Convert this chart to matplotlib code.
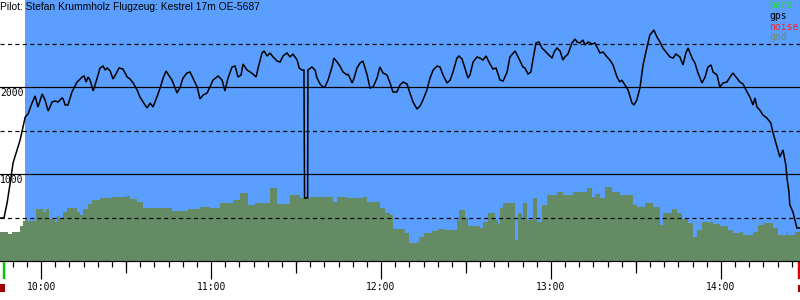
import matplotlib
matplotlib.use("Agg")
import matplotlib.pyplot as plt
from matplotlib.ticker import FixedLocator, MultipleLocator
from matplotlib.patches import Rectangle
import matplotlib.transforms as mtransforms

# ---------------- data ----------------
pilot_text = "Pilot: Stefan Krummholz Flugzeug: Kestrel 17m OE-5687"
legend_labels = ["baro", "gps", "noise", "gnd"]
legend_colors = ["#22dd22", "#000000", "#ff2020", "#6f8a6f"]

view_start_min = 585.5      # minutes after midnight (09:45.5)
view_end_min = 867.9        # 14:27.9
blue_start_min = 594.4      # start of flight window
start_marker_min = 587.0
end_marker_min = 867.6

hour_ticks_min = [600, 660, 720, 780, 840]
hour_labels = ["10:00", "11:00", "12:00", "13:00", "14:00"]
half_hour_ticks_min = [630, 690, 750, 810]
alt_label_levels = [1000, 2000]
solid_levels = [1000, 2000]
dashed_levels = [500, 1500, 2500]

# flight altitude (m) vs time (minutes after midnight)
flight_min = [585.5, 586.9, 588.0, 589.1, 590.1, 591.5, 592.6, 593.6, 594.4, 595.4,
              596.8, 597.9, 598.9, 600.4, 601.4, 602.5, 603.9, 604.9, 606.0, 607.4,
              607.8, 608.5, 609.5, 610.9, 612.7, 614.5, 615.2, 615.9, 616.6, 617.3,
              618.4, 619.8, 620.8, 621.9, 622.6, 623.3, 624.4, 625.4, 626.8, 627.5,
              628.9, 630.4, 631.4, 632.5, 633.9, 634.9, 636.0, 637.4, 638.5, 639.5,
              640.9, 642.0, 643.1, 644.1, 644.8, 646.2, 647.3, 648.0, 649.1, 650.1,
              651.5, 652.6, 653.6, 655.1, 656.1, 657.2, 658.6, 659.6, 660.7, 662.5,
              663.9, 664.9, 666.0, 667.4, 668.5, 669.5, 670.6, 671.3, 672.7, 673.8,
              674.8, 675.9, 676.6, 678.0, 678.7, 679.8, 680.8, 681.9, 683.3, 684.4,
              685.4, 686.8, 687.9, 688.9, 690.4, 691.1, 692.1, 692.8, 693.0, 694.1,
              694.2, 695.6, 696.7, 697.4, 698.5, 699.5, 700.2, 701.3, 702.7, 703.4,
              704.5, 705.5, 706.6, 708.0, 708.4, 709.8, 710.5, 711.5, 712.6, 713.6,
              715.1, 716.1, 717.2, 718.6, 719.6, 720.7, 722.1, 723.2, 724.2, 725.6,
              726.7, 727.8, 729.2, 730.2, 731.3, 732.7, 733.8, 734.8, 736.2, 737.3,
              738.4, 739.8, 740.8, 741.9, 743.3, 744.4, 745.4, 746.8, 747.5, 748.6,
              749.6, 750.7, 751.4, 752.5, 753.9, 754.9, 756.0, 757.1, 758.1, 759.5,
              760.6, 762.0, 763.1, 764.5, 765.5, 767.3, 768.4, 770.1, 770.8, 771.9,
              772.9, 773.6, 774.7, 775.8, 776.8, 777.9, 778.9, 780.4, 781.1, 782.1,
              783.2, 784.2, 784.9, 786.0, 787.4, 788.5, 789.2, 790.2, 791.3, 792.0,
              793.1, 794.5, 795.5, 797.3, 798.4, 799.8, 800.8, 801.9, 803.3, 804.3,
              805.0, 806.1, 807.2, 808.6, 809.3, 810.3, 811.4, 812.5, 813.9, 814.9,
              816.3, 817.4, 818.5, 819.5, 820.9, 822.0, 823.1, 824.1, 825.5, 826.6,
              827.6, 828.4, 829.8, 830.8, 831.9, 833.3, 834.4, 835.4, 836.5, 837.2,
              838.6, 839.6, 840.7, 842.1, 843.2, 844.2, 845.6, 846.7, 847.8, 849.2,
              850.2, 851.3, 852.0, 852.7, 853.7, 854.8, 856.2, 857.6, 858.3, 859.8,
              860.8, 861.9, 862.9, 863.3, 864.0, 864.3, 865.4, 866.1, 866.8, 867.9]
flight_alt = [494, 494, 667, 897, 1126, 1276, 1391, 1540, 1655, 1690,
              1816, 1897, 1770, 1920, 1851, 1724, 1828, 1839, 1828, 1874,
              1862, 1793, 1793, 1943, 2057, 2115, 2126, 2057, 2115, 2080,
              1954, 2103, 2218, 2241, 2195, 2218, 2184, 2092, 2172, 2218,
              2207, 2115, 2092, 2046, 1966, 1885, 1828, 1759, 1816, 1770,
              1885, 1989, 2103, 2184, 2149, 2080, 1989, 1931, 2000, 2103,
              2161, 2172, 2103, 2000, 1862, 1908, 1931, 2000, 2080, 2126,
              2080, 1954, 2103, 2230, 2241, 2115, 2138, 2264, 2195, 2172,
              2149, 2115, 2218, 2391, 2414, 2356, 2391, 2345, 2299, 2287,
              2356, 2391, 2345, 2379, 2310, 2218, 2195, 2195, 724, 724,
              2195, 2230, 2195, 2103, 2034, 2000, 2000, 2080, 2230, 2333,
              2287, 2241, 2172, 2138, 2149, 2046, 2103, 2218, 2276, 2299,
              2138, 1989, 2000, 2103, 2230, 2161, 2138, 2046, 1943, 1943,
              2023, 2057, 2034, 1931, 1828, 1747, 1782, 1851, 1966, 2103,
              2195, 2241, 2230, 2138, 2046, 2080, 2172, 2333, 2356, 2322,
              2218, 2103, 2138, 2287, 2345, 2333, 2310, 2356, 2287, 2207,
              2218, 2080, 2069, 2172, 2345, 2414, 2345, 2230, 2218, 2149,
              2172, 2310, 2506, 2517, 2448, 2414, 2379, 2333, 2402, 2448,
              2414, 2310, 2345, 2379, 2506, 2552, 2517, 2506, 2540, 2483,
              2517, 2494, 2506, 2391, 2402, 2345, 2310, 2253, 2115, 2057,
              2080, 2023, 1966, 1816, 1793, 1851, 1989, 2253, 2460, 2598,
              2655, 2575, 2517, 2448, 2391, 2345, 2333, 2379, 2345, 2253,
              2391, 2448, 2333, 2276, 2161, 2046, 2115, 2230, 2253, 2172,
              2138, 2000, 2046, 2057, 2115, 2161, 2103, 2057, 2034, 1943,
              1885, 1793, 1874, 1770, 1736, 1678, 1644, 1586, 1483, 1310,
              1195, 1276, 1103, 954, 793, 644, 563, 471, 379, 379]

# ground elevation under the track (m), stepwise from each time
gnd_min = [585.5, 588.4, 589.8, 592.6, 593.6, 594.4, 595.1, 598.2, 600.7, 601.8,
           602.8, 604.9, 605.6, 606.4, 607.8, 609.2, 612.7, 613.8, 614.8, 616.6,
           618.0, 620.8, 625.1, 630.4, 631.4, 633.9, 636.0, 646.2, 651.9, 656.1,
           659.6, 663.2, 667.8, 670.2, 673.1, 675.5, 680.8, 683.3, 687.9, 691.4,
           694.9, 703.1, 704.5, 708.0, 713.6, 715.1, 719.6, 721.4, 723.2, 724.2,
           728.5, 729.9, 732.7, 733.4, 735.2, 738.0, 740.1, 742.6, 746.8, 747.5,
           749.6, 750.7, 754.9, 756.0, 757.8, 760.2, 761.3, 762.0, 763.1, 767.3,
           768.4, 769.8, 770.1, 771.5, 773.6, 775.1, 776.8, 778.6, 782.1, 784.2,
           787.8, 792.7, 794.5, 795.5, 797.3, 799.1, 801.5, 804.4, 808.9, 810.4,
           813.2, 816.0, 818.5, 819.5, 822.7, 824.5, 826.2, 828.4, 830.1, 831.5,
           833.3, 837.2, 839.6, 842.5, 844.2, 846.7, 847.8, 851.3, 853.1, 854.8,
           858.3, 860.1, 863.3, 863.6, 866.1, 867.9]
gnd_alt = [333, 310, 333, 402, 460, 483, 460, 598, 563, 598,
           483, 448, 517, 494, 563, 609, 563, 529, 598, 655,
           701, 724, 736, 747, 713, 678, 609, 575, 598, 621,
           609, 667, 701, 782, 644, 667, 839, 655, 759, 724,
           736, 678, 736, 724, 736, 678, 609, 552, 529, 368,
           322, 207, 218, 276, 322, 345, 368, 356, 471, 586,
           494, 402, 379, 448, 552, 471, 425, 609, 667, 241,
           552, 471, 667, 471, 724, 448, 644, 759, 793, 759,
           793, 839, 736, 770, 724, 851, 793, 759, 644, 621,
           667, 621, 414, 552, 598, 552, 483, 437, 276, 356,
           448, 425, 402, 356, 322, 333, 299, 333, 414, 437,
           379, 299, 333, 299, 333, 333]

# ---------------- style ----------------
BLUE = "#5a9fff"
GROUND = "#648b64"
PX = 0.72  # one pixel in points at 100 dpi
MONO = "DejaVu Sans Mono"

fig = plt.figure(figsize=(8, 3), dpi=100)
ax = fig.add_axes([0, 39 / 300, 1, 261 / 300])
ax.set_xlim(view_start_min, view_end_min)
ax.set_ylim(0, 3000)
ax.set_facecolor("white")

ax.axvspan(blue_start_min, view_end_min, color=BLUE, lw=0, zorder=0)
ax.fill_between(gnd_min, gnd_alt, 0, step="post", color=GROUND, lw=0, zorder=1)

for lvl in solid_levels:
    ax.axhline(lvl, color="black", lw=PX * 1.2, zorder=2)
for lvl in dashed_levels:
    ax.axhline(lvl, color="black", lw=PX * 1.2, dashes=(3.4, 2.8), zorder=2)

ax.plot(flight_min, flight_alt, color="black", lw=1.1, zorder=4,
        solid_joinstyle="miter")

# spines / ticks
for s in ["top", "left", "right"]:
    ax.spines[s].set_visible(False)
ax.spines["bottom"].set_linewidth(PX * 1.2)
ax.spines["bottom"].set_zorder(5)
ax.set_yticks([])
ax.xaxis.set_major_locator(FixedLocator(hour_ticks_min))
ax.set_xticklabels(hour_labels)
ax.xaxis.set_minor_locator(MultipleLocator(5))
ax.tick_params(axis="x", which="major", length=18 * PX, width=PX * 1.2,
               pad=2.2, labelsize=7, labelfontfamily=MONO)
ax.tick_params(axis="x", which="minor", length=6 * PX, width=PX * 1.2)

sec = ax.secondary_xaxis("bottom")
sec.set_xticks(half_hour_ticks_min)
sec.tick_params(axis="x", length=12 * PX, width=PX * 1.2, labelbottom=False)
sec.spines["bottom"].set_visible(False)

# altitude labels
yoff = mtransforms.offset_copy(ax.get_yaxis_transform(), fig=fig, x=0, y=-1.0,
                               units="points")
for lvl in alt_label_levels:
    ax.text(0.0, lvl, str(lvl), transform=yoff, ha="left", va="top",
            fontsize=7, family=MONO, color="black", zorder=6)

# start / end markers below axis
xt = ax.get_xaxis_transform()
ax.plot([start_marker_min, start_marker_min], [-1 / 261, -18 / 261], transform=xt,
        color="#00c800", lw=2.4 * PX, clip_on=False, solid_capstyle="butt")
ax.plot([end_marker_min, end_marker_min], [-1 / 261, -18 / 261], transform=xt,
        color="#dd0000", lw=2.4 * PX, clip_on=False, solid_capstyle="butt")
ax.add_patch(Rectangle((view_start_min, -31 / 261), 1.75, 8 / 261, transform=xt,
                       color="#a00000", lw=0, clip_on=False))
ax.add_patch(Rectangle((view_end_min - 0.7, -31 / 261), 0.7, 7 / 261, transform=xt,
                       color="#a00000", lw=0, clip_on=False))

# title
fig.text(0.0, 1 - 9.5 / 300, pilot_text, ha="left", va="baseline",
         fontsize=7.4, family="Liberation Sans", color="black")

# legend
baselines = [8.5, 19, 29.5, 40]
for lab, col, b in zip(legend_labels, legend_colors, baselines):
    fig.text(769 / 800, 1 - b / 300, lab, ha="left", va="baseline",
             fontsize=7, family=MONO, color=col)

fig.savefig("out.png", dpi=100)
